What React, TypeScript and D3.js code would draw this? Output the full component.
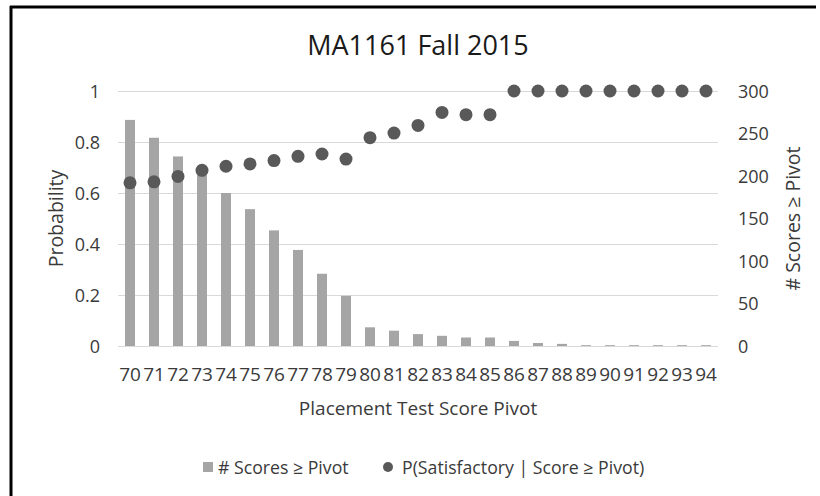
import React from "react";
import * as d3 from "d3";

const categories = ["70","71","72","73","74","75","76","77","78","79","80","81","82","83","84","85","86","87","88","89","90","91","92","93","94"];
const counts = [266,245,223,201,180,161,136,113,85,59,22,18,14,12,10,10,6,3.5,2.5,1,1,1,1,1,1];
const probs = [0.64,0.644,0.665,0.689,0.705,0.714,0.727,0.744,0.753,0.733,0.817,0.835,0.865,0.916,0.907,0.907,1,1,1,1,1,1,1,1,1];
const leftTicks = [0,0.2,0.4,0.6,0.8,1];
const rightTicks = [0,50,100,150,200,250,300];

const title = "MA1161 Fall 2015";
const xTitle = "Placement Test Score Pivot";
const yLeftTitle = "Probability";
const yRightTitle = "# Scores ≥ Pivot";
const barLegend = "# Scores ≥ Pivot";
const dotLegend = "P(Satisfactory | Score ≥ Pivot)";

const FONT = "'Open Sans', 'Noto Sans', sans-serif";

export default function App() {
  const left = 118, right = 718, top = 91, bottom = 346;
  const x = d3.scaleBand<string>().domain(categories).range([left, right]).paddingInner(0).paddingOuter(0);
  const yL = d3.scaleLinear().domain([0, 1]).range([bottom, top]);
  const yR = d3.scaleLinear().domain([0, 300]).range([bottom, top]);
  const barW = 10;
  const txt = "#3a3a3a";
  const midY = (top + bottom) / 2;
  return (
    <svg width={820} height={496} style={{ position: "absolute", left: 0, top: 0, background: "#fff" }} fontFamily={FONT}>
      <rect x={0} y={0} width={820} height={496} fill="#fff" />
      <line x1={10} x2={816} y1={7} y2={7} stroke="#000" strokeWidth={3} />
      <line x1={11} x2={11} y1={6} y2={496} stroke="#000" strokeWidth={3} />
      <text x={418} y={55} textAnchor="middle" fontSize={27} fill="#1a1a1a">{title}</text>
      {leftTicks.map((t) => (
        <line key={"g" + t} x1={left} x2={right} y1={Math.round(yL(t)) + 0.5} y2={Math.round(yL(t)) + 0.5} stroke="#d9d9d9" strokeWidth={1} />
      ))}
      {leftTicks.map((t) => (
        <text key={"l" + t} x={100} y={yL(t) + 6.5} textAnchor="end" fontSize={18} fill={txt}>{d3.format("~g")(t)}</text>
      ))}
      {rightTicks.map((t) => (
        <text key={"r" + t} x={738} y={yR(t) + 6.5} textAnchor="start" fontSize={18} fill={txt}>{t}</text>
      ))}
      {categories.map((c, i) => (
        <rect key={"b" + c} x={(x(c) as number) + x.bandwidth() / 2 - barW / 2} y={yR(counts[i])} width={barW} height={bottom - yR(counts[i])} fill="#a5a5a5" />
      ))}
      {categories.map((c, i) => (
        <circle key={"d" + c} cx={(x(c) as number) + x.bandwidth() / 2} cy={yL(probs[i])} r={6.5} fill="#595959" />
      ))}
      {categories.map((c) => (
        <text key={"x" + c} x={(x(c) as number) + x.bandwidth() / 2} y={381} textAnchor="middle" fontSize={19} fill={txt}>{c}</text>
      ))}
      <text x={418} y={415} textAnchor="middle" fontSize={19} fill={txt}>{xTitle}</text>
      <text transform={`translate(63,${midY}) rotate(-90)`} textAnchor="middle" fontSize={19.5} fill={txt}>{yLeftTitle}</text>
      <text transform={`translate(800,${midY}) rotate(-90)`} textAnchor="middle" fontSize={19.5} fill={txt}>{yRightTitle}</text>
      <rect x={203} y={462} width={10} height={10} fill="#a5a5a5" />
      <text x={218} y={473.5} fontSize={17.7} fill={txt}>{barLegend}</text>
      <circle cx={388} cy={467} r={5} fill="#595959" />
      <text x={402} y={473.5} fontSize={17.7} fill={txt}>{dotLegend}</text>
    </svg>
  );
}
